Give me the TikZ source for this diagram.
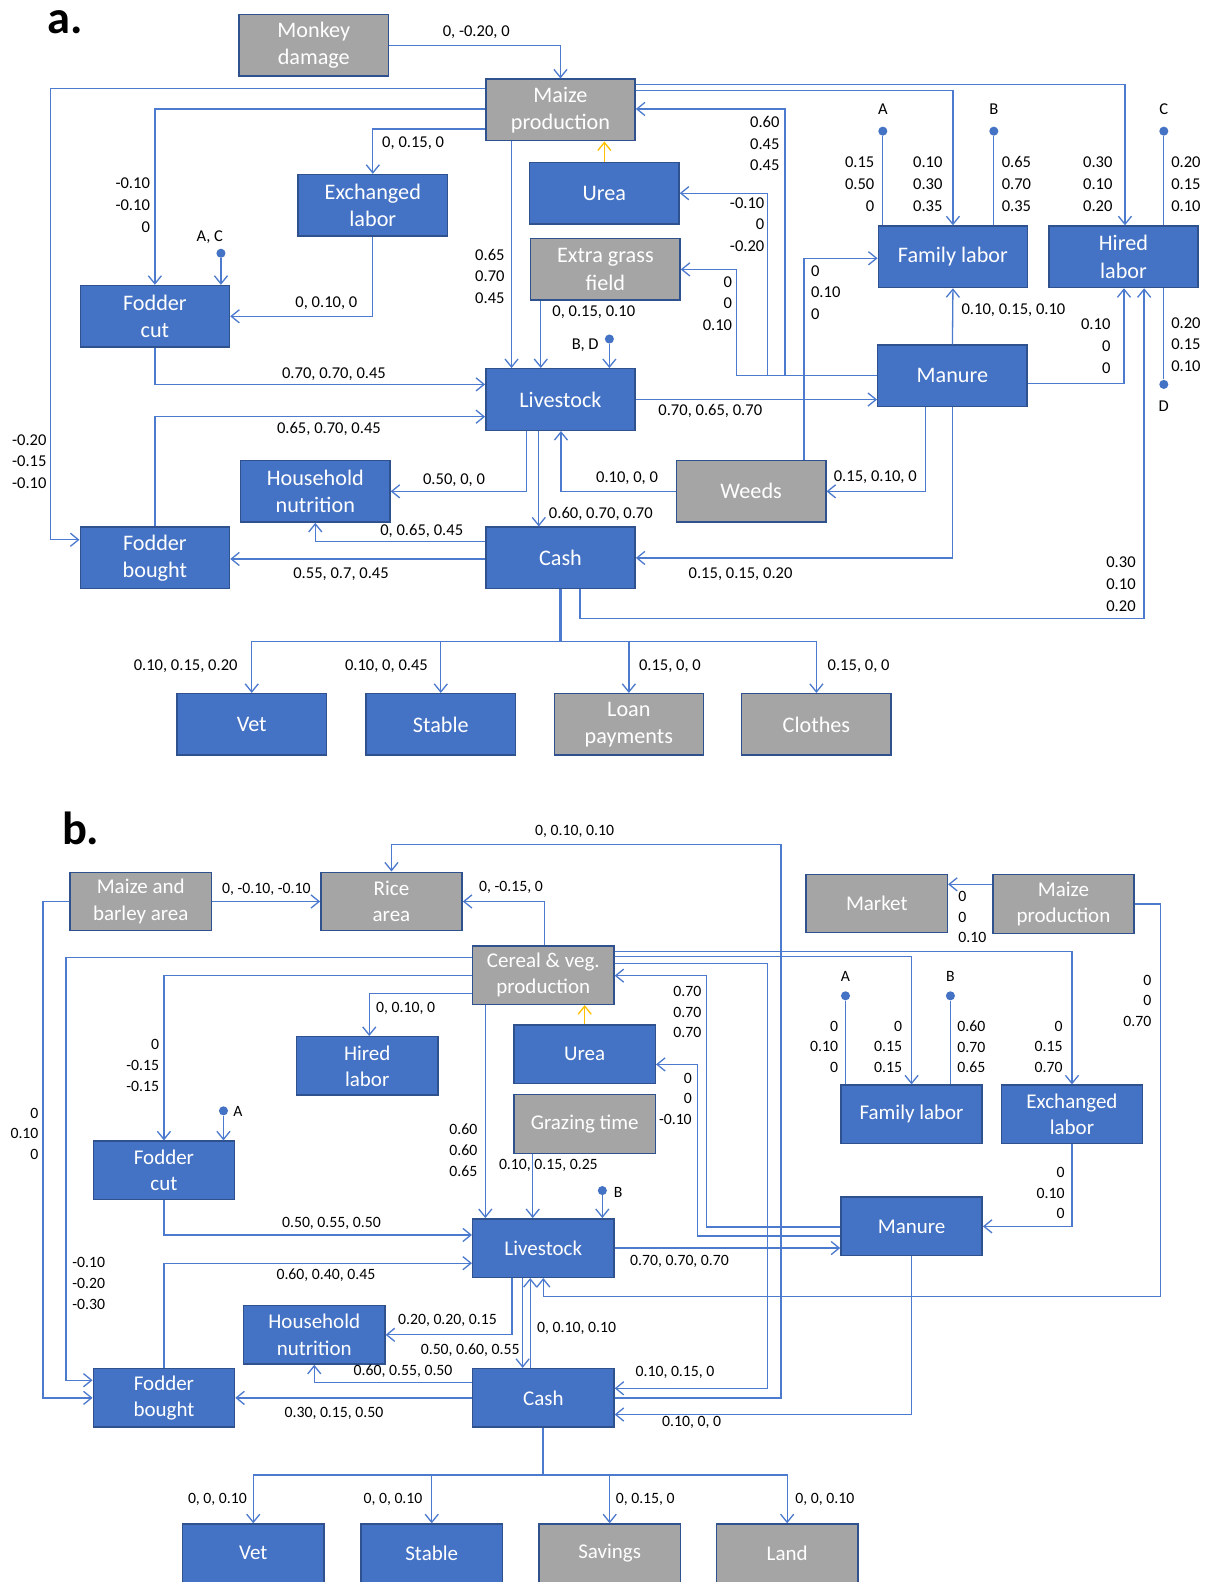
\documentclass[tikz,border=0pt]{standalone}
\usepackage{fontspec}
\setmainfont{Carlito}
\usetikzlibrary{arrows.meta,positioning}
\definecolor{boxblue}{RGB}{68,114,196}
\definecolor{boxgrey}{RGB}{165,165,165}
\definecolor{boxedge}{RGB}{47,82,143}
\definecolor{wire}{RGB}{76,122,206}
\definecolor{ureaorange}{RGB}{255,192,0}

\begin{document}
\begin{tikzpicture}[
  x=0.5pt, y=-0.5pt,
  >={Straight Barb[length=4pt,width=6.5pt]},
  blk/.style={draw=boxedge, line width=0.7pt, fill=boxblue, text=white, align=center,
    inner sep=0pt, minimum width=74pt, minimum height=30.5pt, font=\fontsize{11}{13.5}\selectfont},
  gry/.style={blk, fill=boxgrey},
  num/.style={font=\fontsize{8.2}{10.75}\selectfont, inner sep=0pt, align=center},
  numr/.style={num, align=right, anchor=east},
  numl/.style={num, align=left, anchor=west},
  wireline/.style={draw=wire, line width=0.65pt},
  lnk/.style={wireline, ->},
  dot/.style={circle, fill=boxblue, inner sep=0pt, minimum size=4.5pt},
  tag/.style={font=\fontsize{23}{26}\selectfont\bfseries, inner sep=0pt}
]
\useasboundingbox (0,0) rectangle (1205,1568);
\fill[white] (0,0) rectangle (1205,1568);

% ---- a. ----
\node[tag] (ta) at (65,22) {a.};
\node[gry] (monkey) at (311,45) {Monkey\\damage};
\node[gry] (maizeA) at (555.5,109) {Maize\\production};
\node[blk] (exlabA) at (369.5,203.5) {Exchanged\\labor};
\node[blk] (ureaA) at (599,191.5) {Urea};
\node[gry] (grassA) at (600,267) {Extra grass\\field};
\node[blk] (fcutA) at (153.5,313.5) {Fodder\\cut};
\node[blk] (famA) at (944.5,254.5) {Family labor};
\node[blk] (hireA) at (1113.5,254.5) {Hired\\labor};
\node[blk] (liveA) at (555.5,396) {Livestock};
\node[blk] (manA) at (944,372.5) {Manure};
\node[blk] (hhA) at (312.5,487) {Household\\nutrition};
\node[gry] (weedsA) at (744.5,487) {Weeds};
\node[blk] (fbuyA) at (153.5,553) {Fodder\\bought};
\node[blk] (cashA) at (555.5,553) {Cash};
\node[blk] (vetA) at (249.5,718) {Vet};
\node[blk, right=19pt of vetA] (stabA) {Stable};
\node[gry, right=18.5pt of stabA] (loanA) {Loan\\payments};
\node[gry, right=18.25pt of loanA] (clothA) {Clothes};

\node[dot] (pAC) at (219,251) {};
\node[num] (tAC) at (208,235) {A, C};
\node[dot] (pBD) at (604,336) {};
\node[num] (tBD) at (580,342.5) {B, D};
\node[dot] (pA) at (875,130) {};
\node[num] (tA) at (875,108.5) {A};
\node[dot] (pB) at (985,130) {};
\node[num] (tB) at (985,108.5) {B};
\node[dot] (pC) at (1153.5,130) {};
\node[num] (tC) at (1153.5,108.5) {C};
\node[dot] (pD) at (1153.5,381) {};
\node[num] (tD) at (1153.5,402.5) {D};

\draw[lnk] (monkey.east) -| (maizeA.north);
\draw[lnk] (maizeA.west |- 0,88) -- (50,88) |- (fbuyA.west |- 0,535);
\draw[lnk] (maizeA.west |- 0,108) -| (fcutA.north);
\draw[lnk] (maizeA.west |- 0,128) -| (exlabA.north);
\draw[lnk] (exlabA.south) |- (fcutA.east);
\draw[lnk] (pAC) -- (pAC |- fcutA.north);
\draw[lnk] (fcutA.south) |- (liveA.west |- 0,381);
\draw[lnk] (fbuyA.north) |- (liveA.west |- 0,413);
\draw[lnk] (maizeA.south -| 507,0) -- (liveA.north -| 507,0);
\draw[lnk, draw=ureaorange] (ureaA.north) -- (ureaA.north |- maizeA.south);
\draw[lnk] (grassA.south -| 536,0) -- (liveA.north -| 536,0);
\draw[lnk] (pBD) -- (pBD |- liveA.north);
\draw[lnk] (manA.west |- 0,372) -| (730,267) -- (grassA.east);
\draw[lnk] (manA.west |- 0,372) -| (761,191.5) -- (ureaA.east);
\draw[lnk] (manA.west |- 0,372) -| (778,108) -- (maizeA.east |- 0,108);
\draw[lnk] (maizeA.east |- 0,84) -| (hireA.north -| 1115,0);
\draw[lnk] (maizeA.east |- 0,90) -| (famA.north);
\draw[wireline] (pA) -- (pA |- famA.north);
\draw[wireline] (pB) -- (pB |- famA.north);
\draw[wireline] (pC) -- (pC |- hireA.north);
\draw[wireline] (pD) -- (pD |- hireA.south);
\draw[lnk] (manA.north) -- (famA.south);
\draw[lnk] (manA.east |- 0,380) -| (hireA.south -| 1114,0);
\draw[lnk] (weedsA.north -| 797,0) |- (famA.west |- 0,256);
\draw[lnk] (liveA.east |- 0,396) -- (manA.west |- 0,396);
\draw[lnk] (manA.south -| 917.5,0) |- (weedsA.east);
\draw[lnk] (weedsA.west) -| (liveA.south -| 556,0);
\draw[lnk] (liveA.south -| 522,0) |- (hhA.east);
\draw[lnk] (liveA.south -| 534,0) -- (cashA.north -| 534,0);
\draw[lnk] (cashA.west |- 0,537) -| (hhA.south);
\draw[lnk] (cashA.west |- 0,554) -- (fbuyA.east |- 0,554);
\draw[lnk] (manA.south) |- (cashA.east);
\draw[lnk] (cashA.south -| 575,0) |- (1134,613) -- (hireA.south -| 1134,0);
\draw[wireline, line width=1.1pt] (cashA.south) -- (555.5,636) coordinate (busA);
\draw[lnk] (busA) -| (vetA.north);
\draw[lnk] (busA) -| (stabA.north);
\draw[lnk] (busA) -| (loanA.north);
\draw[lnk] (busA) -| (clothA.north);

\node[num] (n1) at (472,31.5) {0, -0.20, 0};
\node[numr] (n2) at (46.5,457.5) {-0.20\\-0.15\\-0.10};
\node[numr] (n3) at (149,203.5) {-0.10\\-0.10\\0};
\node[num] (n4) at (409.5,142) {0, 0.15, 0};
\node[num] (n5) at (323.5,300.5) {0, 0.10, 0};
\node[num] (n6) at (331,370.5) {0.70, 0.70, 0.45};
\node[num] (n7) at (326,425) {0.65, 0.70, 0.45};
\node[numr] (n8) at (500.5,274) {0.65\\0.70\\0.45};
\node[num] (n9) at (588.5,309) {0, 0.15, 0.10};
\node[numr] (n10) at (726,301) {0\\0\\0.10};
\node[numr] (n11) at (758,222.5) {-0.10\\0\\-0.20};
\node[numr] (n12) at (773,142.5) {0.60\\0.45\\0.45};
\node[numr] (n13) at (867,182.5) {0.15\\0.50\\0};
\node[numr] (n14) at (934.5,182.5) {0.10\\0.30\\0.35};
\node[numl] (n15) at (992.5,182.5) {0.65\\0.70\\0.35};
\node[numr] (n16) at (1103,182.5) {0.30\\0.10\\0.20};
\node[numl] (n17) at (1160.5,182.5) {0.20\\0.15\\0.10};
\node[num] (n18) at (1004.5,307) {0.10, 0.15, 0.10};
\node[numr] (n19) at (1101,343) {0.10\\0\\0};
\node[numl] (n20) at (1160.5,341.5) {0.20\\0.15\\0.10};
\node[numl] (n21) at (803.5,290) {0\\0.10\\0};
\node[num] (n22) at (704,407) {0.70, 0.65, 0.70};
\node[num] (n23) at (867.5,472.5) {0.15, 0.10, 0};
\node[num] (n24) at (621.5,474) {0.10, 0, 0};
\node[num] (n25) at (450,476) {0.50, 0, 0};
\node[num] (n26) at (595.5,509.5) {0.60, 0.70, 0.70};
\node[num] (n27) at (418,526) {0, 0.65, 0.45};
\node[num] (n28) at (338,569) {0.55, 0.7, 0.45};
\node[num] (n29) at (734,569) {0.15, 0.15, 0.20};
\node[numr] (n30) at (1126,579) {0.30\\0.10\\0.20};
\node[num] (n31) at (184,660.5) {0.10, 0.15, 0.20};
\node[num] (n32) at (383,660.5) {0.10, 0, 0.45};
\node[num] (n33) at (664,660.5) {0.15, 0, 0};
\node[num] (n34) at (851,660.5) {0.15, 0, 0};

% ---- b. ----
\begin{scope}[
  blk/.append style={minimum width=70pt, minimum height=29pt, font=\fontsize{10.4}{13}\selectfont},
  num/.append style={font=\fontsize{7.8}{10.2}\selectfont}
]
\node[tag] (tb) at (80,821) {b.};
\node[gry] (mbarB) at (139.5,893.5) {Maize and\\barley area};
\node[gry] (riceB) at (388,893.5) {Rice\\area};
\node[gry] (mktB) at (869,895.5) {Market};
\node[gry] (mzB) at (1054,896) {Maize\\production};
\node[gry] (cerB) at (538.5,966.5) {Cereal \& veg.\\production};
\node[blk] (hireB) at (364,1056.5) {Hired\\labor};
\node[blk] (ureaB) at (579.5,1045) {Urea};
\node[gry] (grazB) at (579.5,1114) {Grazing time};
\node[blk] (famB) at (903.5,1104.5) {Family labor};
\node[blk] (exlabB) at (1062.5,1104.5) {Exchanged\\labor};
\node[blk] (fcutB) at (162.5,1160) {Fodder\\cut};
\node[blk] (liveB) at (538.5,1237) {Livestock};
\node[blk] (manB) at (903.5,1215.5) {Manure};
\node[blk] (hhB) at (311.5,1323) {Household\\nutrition};
\node[blk] (fbuyB) at (162.5,1385.5) {Fodder\\bought};
\node[blk] (cashB) at (538.5,1385.5) {Cash};
\node[blk] (vetB) at (251,1539.5) {Vet};
\node[blk, right=17.75pt of vetB] (stabB) {Stable};
\node[gry, right=17.5pt of stabB] (savB) {Savings};
\node[gry, right=17.25pt of savB] (landB) {Land};

\node[dot] (pAb) at (221.5,1101) {};
\node[num, anchor=west] (tAb) at (231,1102) {A};
\node[dot] (pBb) at (597,1180) {};
\node[num, anchor=west] (tBb) at (608,1182) {B};
\node[dot] (pAr) at (838,987) {};
\node[num] (tAr) at (838,967.5) {A};
\node[dot] (pBr) at (942,987) {};
\node[num] (tBr) at (942,967.5) {B};

\draw[lnk] (mbarB.east) -- (riceB.west);
\draw[lnk] (mbarB.west) -| (42.5,1385.5) -- (fbuyB.west);
\draw[lnk] (cerB.north -| 539.5,0) |- (riceB.east);
\draw[lnk] (cashB.east) -| (774,837) -| (riceB.north);
\draw[lnk] (cerB.east |- 0,943) -| (exlabB.north);
\draw[lnk] (cerB.east |- 0,948) -| (famB.north);
\draw[lnk] (cerB.east |- 0,955) -| (761,1376) -- (cashB.east |- 0,1376);
\draw[lnk] (manB.west |- 0,1216) -| (700.5,967) -- (cerB.east |- 0,967);
\draw[lnk] (manB.west |- 0,1225) -| (691.5,1055) -- (ureaB.east |- 0,1055);
\draw[lnk] (liveB.east) -- (manB.west |- liveB.east);
\draw[lnk] (exlabB.south) |- (manB.east);
\draw[lnk] (mzB.east) -| (1150.5,1285) -| (liveB.south);
\draw[lnk] (mzB.west |- 0,876.5) -- (mktB.east |- 0,876.5);
\draw[wireline] (pAr) -- (pAr |- famB.north);
\draw[wireline] (pBr) -- (pBr |- famB.north);
\draw[lnk] (cerB.west |- 0,949) -| (65.5,1368) -- (fbuyB.west |- 0,1368);
\draw[lnk] (cerB.west |- 0,967) -| (fcutB.north);
\draw[lnk] (cerB.west |- 0,985) -| (hireB.north -| 366,0);
\draw[lnk] (pAb) -- (pAb |- fcutB.north);
\draw[lnk] (fcutB.south) |- (liveB.west |- 0,1224);
\draw[lnk] (fbuyB.north) |- (liveB.west |- 0,1252);
\draw[lnk] (cerB.south -| 481,0) -- (liveB.north -| 481,0);
\draw[lnk, draw=ureaorange] (ureaB.north) -- (ureaB.north |- cerB.south);
\draw[lnk] (grazB.south -| 528,0) -- (liveB.north -| 528,0);
\draw[lnk] (pBb) -- (pBb |- liveB.north);
\draw[lnk] (liveB.south -| 507.5,0) |- (hhB.east);
\draw[lnk] (liveB.south -| 518,0) -- (cashB.north -| 518,0);
\draw[lnk] (cashB.north -| 525.5,0) -- (liveB.south -| 525.5,0);
\draw[lnk] (cashB.west |- 0,1370.5) -| (hhB.south);
\draw[lnk] (cashB.west) -- (fbuyB.east);
\draw[lnk] (manB.south) |- (cashB.east |- 0,1402);
\draw[wireline, line width=1.1pt] (cashB.south) -- (538.5,1462) coordinate (busB);
\draw[lnk] (busB) -| (vetB.north);
\draw[lnk] (busB) -| (stabB.north);
\draw[lnk] (busB) -| (savB.north);
\draw[lnk] (busB) -| (landB.north);

\node[num] (m1) at (569.5,824.5) {0, 0.10, 0.10};
\node[num] (m2) at (264,881.5) {0, -0.10, -0.10};
\node[num] (m3) at (506.5,880) {0, -0.15, 0};
\node[numl] (m4) at (949.5,909) {0\\0\\0.10};
\node[numr] (m5) at (1141.5,992) {0\\0\\0.70};
\node[numr] (m6) at (831,1037.5) {0\\0.10\\0};
\node[numr] (m7) at (894.5,1037.5) {0\\0.15\\0.15};
\node[numl] (m8) at (948.5,1037.5) {0.60\\0.70\\0.65};
\node[numr] (m9) at (1053.5,1037.5) {0\\0.15\\0.70};
\node[numr] (m10) at (695.5,1003) {0.70\\0.70\\0.70};
\node[numr] (m11) at (686,1089) {0\\0\\-0.10};
\node[num] (m12) at (402,999.5) {0, 0.10, 0};
\node[numr] (m13) at (158,1056) {0\\-0.15\\-0.15};
\node[numr] (m14) at (38.5,1123.5) {0\\0.10\\0};
\node[numr] (m15) at (473.5,1140) {0.60\\0.60\\0.65};
\node[num] (m16) at (543.5,1155) {0.10, 0.15, 0.25};
\node[numr] (m17) at (1055.5,1182.5) {0\\0.10\\0};
\node[num] (m18) at (328.5,1212.5) {0.50, 0.55, 0.50};
\node[num] (m19) at (323,1263.5) {0.60, 0.40, 0.45};
\node[num] (m20) at (673.5,1250) {0.70, 0.70, 0.70};
\node[numr] (m21) at (104.5,1272) {-0.10\\-0.20\\-0.30};
\node[num] (m22) at (443.5,1309) {0.20, 0.20, 0.15};
\node[num] (m23) at (571.5,1316.5) {0, 0.10, 0.10};
\node[num] (m24) at (466,1338) {0.50, 0.60, 0.55};
\node[num] (m25) at (399.5,1359) {0.60, 0.55, 0.50};
\node[num] (m26) at (669,1360) {0.10, 0.15, 0};
\node[num] (m27) at (331,1400.5) {0.30, 0.15, 0.50};
\node[num] (m28) at (685.5,1410) {0.10, 0, 0};
\node[num] (m29) at (215.5,1486) {0, 0, 0.10};
\node[num] (m30) at (389.5,1486) {0, 0, 0.10};
\node[num] (m31) at (639.5,1486.5) {0, 0.15, 0};
\node[num] (m32) at (817.5,1486.5) {0, 0, 0.10};
\end{scope}
\end{tikzpicture}
\end{document}
